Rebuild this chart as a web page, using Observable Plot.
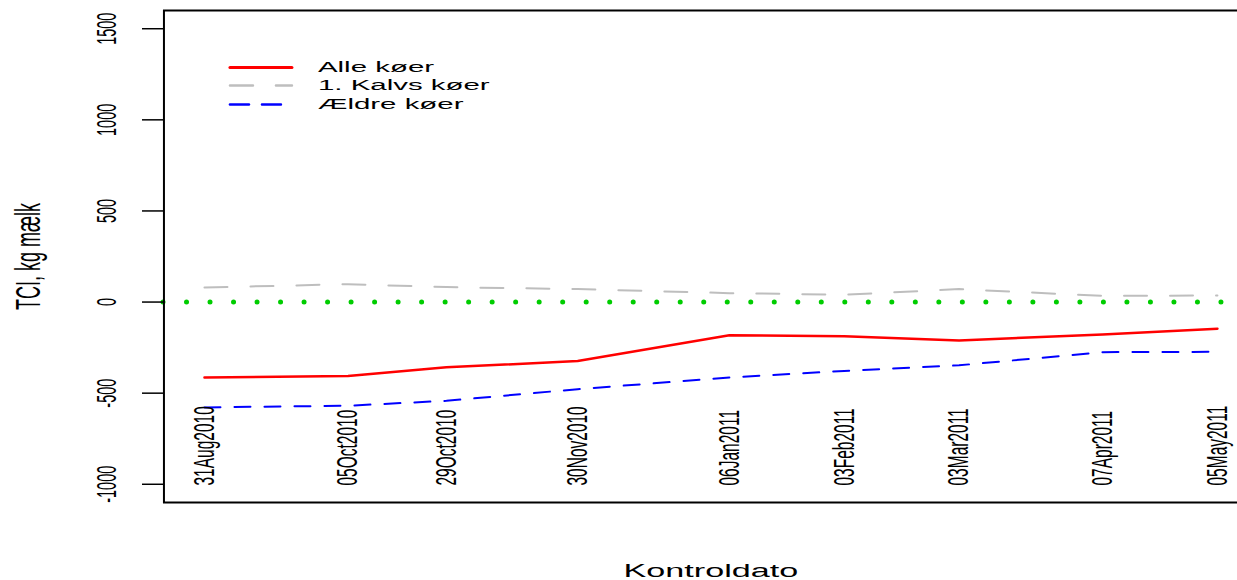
<!DOCTYPE html>
<html><head><meta charset="utf-8">
<script src="https://cdn.jsdelivr.net/npm/d3@7"></script>
<script src="https://cdn.jsdelivr.net/npm/@observablehq/plot@0.6"></script>
<style>
html,body{margin:0;padding:0;background:#fff;overflow:hidden}
#chart{width:1237px;height:580px;overflow:hidden}
</style></head><body><div id="chart"></div>
<script>
// ---- data ----
const dateLabels = ["31Aug2010","05Oct2010","29Oct2010","30Nov2010","06Jan2011","03Feb2011","03Mar2011","07Apr2011","05May2011"];
const alleKoer   = [-414, -406, -358, -324, -182, -188, -211, -178, -146];
const kalvsKoer  = [80, 98, 82, 71, 49, 40, 71, 34, 36];
const aeldreKoer = [-578, -569, -542, -478, -414, -378, -347, -275, -273];
const seriesNames  = ["Alle køer", "1. Kalvs køer", "Ældre køer"];
const seriesColors = ["#ff0000", "#bebebe", "#0000ff"];
const yTicks = [-1000, -500, 0, 500, 1000, 1500];
const xLabel = "Kontroldato";
const yLabel = "TCI, kg mælk";

// ---- build ----
const S = 1.9; // horizontal stretch of the original raster
const parse = d3.timeParse("%d%b%Y");
const dates = dateLabels.map(parse);
const seriesVals = [alleKoer, kalvsKoer, aeldreKoer];
const rows = [];
seriesVals.forEach((vals, k) => vals.forEach((v, i) => rows.push({date: dates[i], value: v, series: seriesNames[k]})));
const [d0, d1] = d3.extent(dates);
const pad = (d1 - d0) * 0.04;
const W = 1260 / S;
const dashes = [null, "23,23", "16,14"];
const widths = [2.5, 2, 2];
const legendLine = {draw(ctx, l) { ctx.moveTo(0, 0); ctx.lineTo(0, -l); }};

const marks = [
  Plot.ruleY([0], {stroke: "#00cd00", strokeWidth: 5, strokeDasharray: "0.01,23.5", strokeLinecap: "round"}),
  ...seriesNames.map((name, k) => Plot.line(rows.filter(r => r.series === name), {
    x: "date", y: "value", stroke: seriesColors[k], strokeWidth: widths[k], strokeDasharray: dashes[k]
  })),
  Plot.frame({stroke: "#000", strokeWidth: 2}),
  Plot.axisY({ticks: yTicks, tickSize: 21 / S, tickFormat: () => "", label: null, strokeWidth: 1.5}),
  Plot.text(yTicks, {y: d => d, text: d => String(d), frameAnchor: "left", dx: (106 - 163) / S,
    rotate: -90, textAnchor: "middle", lineAnchor: "middle", fontSize: 14.5}),
  Plot.text([yLabel], {frameAnchor: "left", dx: (28 - 163) / S, rotate: -90, textAnchor: "middle",
    lineAnchor: "middle", fontSize: 18}),
  Plot.text(dates, {x: d => d, text: (d, i) => dateLabels[i], frameAnchor: "bottom", dy: -17,
    rotate: -90, textAnchor: "start", lineAnchor: "middle", fontSize: 15.5}),
  Plot.text([xLabel], {frameAnchor: "bottom", dy: 69, textAnchor: "middle", lineAnchor: "middle", fontSize: 18}),
  ...seriesNames.flatMap((name, k) => [
    Plot.vector([name], {frameAnchor: "top-left", dx: (229 - 163) / S, dy: [57, 75, 94][k],
      length: 62 / S, rotate: 90, anchor: "start", shape: legendLine,
      stroke: seriesColors[k], strokeWidth: k === 0 ? 3 : 2.5, strokeDasharray: k === 2 ? "19,13" : dashes[k]}),
    Plot.text([name], {frameAnchor: "top-left", dx: (317 - 163) / S, dy: [57, 75, 94][k],
      textAnchor: "start", lineAnchor: "middle", fontSize: 15.5})
  ])
];

const svg = Plot.plot({
  width: W, height: 580,
  marginLeft: 163 / S, marginRight: 3 / S, marginTop: 10, marginBottom: 78,
  x: {type: "time", domain: [new Date(+d0 - pad), new Date(+d1 + pad)], axis: null},
  y: {domain: [-1100, 1600], axis: null},
  style: {fontFamily: "'Liberation Sans', Arial, sans-serif", color: "#000", background: "#fff"},
  marks
});
svg.setAttribute("viewBox", `0 0 ${W} 580`);
svg.setAttribute("preserveAspectRatio", "none");
svg.setAttribute("width", 1260);
svg.setAttribute("height", 580);
svg.style.maxWidth = "none";
svg.style.width = "1260px";
svg.style.height = "580px";
svg.querySelectorAll("path,line,rect").forEach(el => el.setAttribute("vector-effect", "non-scaling-stroke"));
document.getElementById("chart").appendChild(svg);
</script></body></html>
